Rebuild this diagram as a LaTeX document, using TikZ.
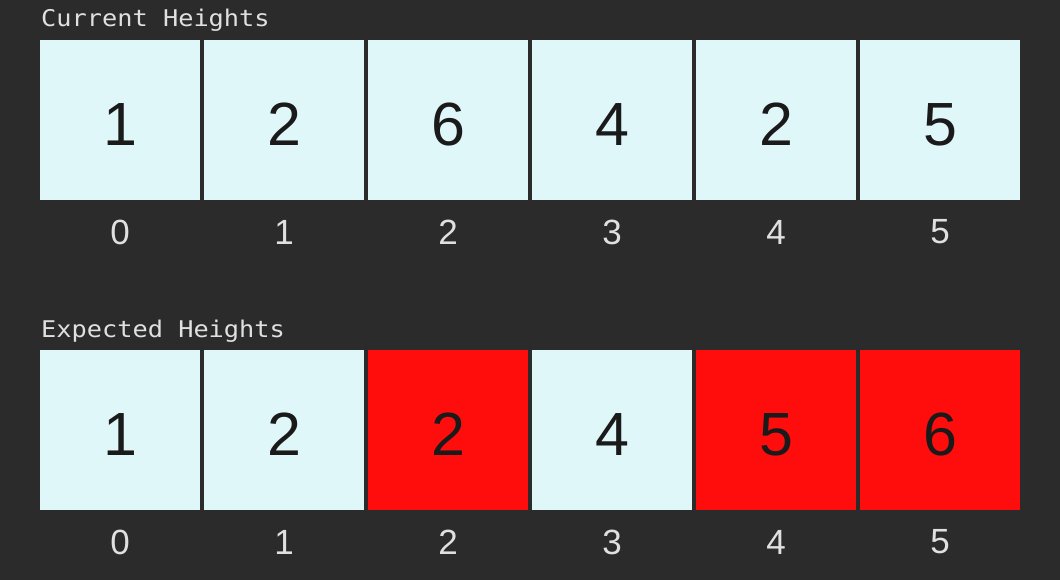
\documentclass[tikz,border=0pt]{standalone}
\usepackage{fontspec}
\setmainfont{Liberation Sans}
\newfontfamily\titlefont[FakeStretch=1.1]{DejaVu Sans Mono}
\definecolor{bgc}{HTML}{2B2B2B}
\definecolor{cellc}{HTML}{E0F7FA}
\definecolor{redc}{HTML}{FF0D0D}
\definecolor{digc}{HTML}{1A1A1A}
\definecolor{idxc}{HTML}{E0E0E0}
\begin{document}
\begin{tikzpicture}[x=1pt,y=-1pt,
  cell/.style={fill=cellc,draw=none,minimum width=160pt,minimum height=160pt,inner sep=0pt,
    font=\fontsize{61}{61}\selectfont,text=digc,anchor=north west,text height=50pt,text depth=0pt},
  hot/.style={cell,fill=redc},
  idx/.style={font=\fontsize{35}{35}\selectfont,text=idxc,inner sep=0pt},
  title/.style={font=\titlefont\fontsize{23}{24}\selectfont,text=idxc,inner sep=0pt,anchor=base west}]
\fill[bgc] (0,0) rectangle (1060,580);
\useasboundingbox (0,0) rectangle (1060,580);
\node[title] (t1) at (41,27) {Current Heights};
\node[title] (t2) at (41,337) {Expected Heights};
\foreach \v [count=\i from 0] in {1,2,6,4,2,5}{
  \node[cell] (a\i) at (40+164*\i,40) {\v};
  \node[idx] (ia\i) at (120+164*\i,232) {\i};
}
\foreach \v/\s [count=\i from 0] in {1/cell,2/cell,2/hot,4/cell,5/hot,6/hot}{
  \node[\s] (b\i) at (40+164*\i,350) {\v};
  \node[idx] (ib\i) at (120+164*\i,542) {\i};
}
\end{tikzpicture}
\end{document}
